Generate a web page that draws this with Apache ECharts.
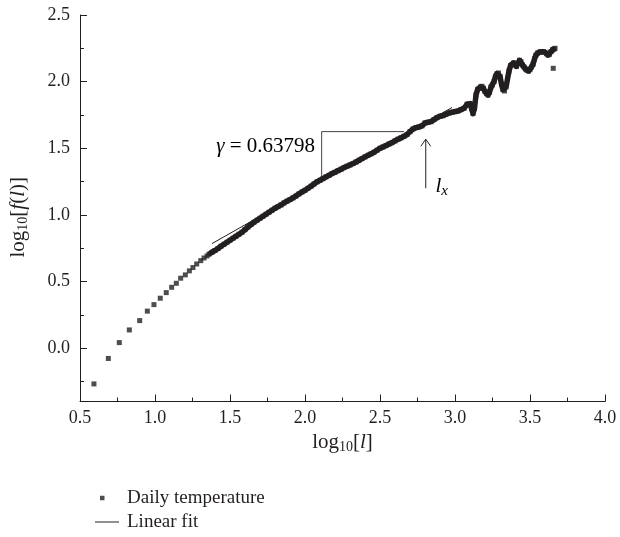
<!DOCTYPE html>
<html>
<head>
<meta charset="utf-8">
<script src="https://cdn.jsdelivr.net/npm/echarts@6/dist/echarts.min.js"></script>
<style>
  html, body { margin: 0; padding: 0; background: #fff; }
</style>
</head>
<body>
<div id="chart" style="width: 620px; height: 537px;"></div>
<script>
// x = log10[l], y = log10[f(l)]
const tempX = [
  0.593, 0.689, 0.762, 0.829, 0.898, 0.949, 0.993, 1.035, 1.075, 1.111,
  1.142, 1.171, 1.202, 1.229, 1.253, 1.278, 1.305, 1.327, 1.347,
  1.36, 1.38, 1.40, 1.42, 1.44, 1.46, 1.48, 1.50, 1.52, 1.54,
  1.56, 1.58, 1.60, 1.62, 1.64, 1.66, 1.68, 1.70, 1.72, 1.74,
  1.76, 1.78, 1.80, 1.82, 1.84, 1.86, 1.88, 1.90, 1.92, 1.94,
  1.96, 1.98, 2.00, 2.02, 2.04, 2.06, 2.08, 2.10, 2.12, 2.14,
  2.16, 2.18, 2.20, 2.22, 2.24, 2.26, 2.28, 2.30, 2.32, 2.34,
  2.36, 2.38, 2.40, 2.42, 2.44, 2.46, 2.48, 2.50, 2.52, 2.54,
  2.56, 2.58, 2.60, 2.62, 2.64, 2.66, 2.68, 2.70, 2.72, 2.74,
  2.76, 2.78, 2.80, 2.82, 2.84, 2.86, 2.88, 2.90, 2.92, 2.94,
  2.96, 2.98, 3.00, 3.02, 3.04, 3.06, 3.08, 3.10, 3.11, 3.12,
  3.13, 3.14, 3.15, 3.16, 3.17, 3.18, 3.19, 3.20, 3.21, 3.22,
  3.23, 3.24, 3.25, 3.26, 3.27, 3.28, 3.29, 3.30, 3.31, 3.32,
  3.33, 3.34, 3.35, 3.36, 3.37, 3.38, 3.39, 3.40, 3.41, 3.42,
  3.43, 3.44, 3.45, 3.46, 3.47, 3.48, 3.49, 3.50, 3.51, 3.52,
  3.53, 3.54, 3.55, 3.56, 3.57, 3.58, 3.59, 3.60, 3.61, 3.62,
  3.63, 3.64, 3.65, 3.66, 3.667
];
const tempY = [
  -0.268, -0.077, 0.042, 0.137, 0.207, 0.278, 0.327, 0.375, 0.417, 0.457,
  0.487, 0.525, 0.55, 0.58, 0.605, 0.632, 0.657, 0.677, 0.692,
  0.705, 0.72, 0.733, 0.748, 0.765, 0.78, 0.795, 0.81, 0.825, 0.84,
  0.855, 0.87, 0.89, 0.91, 0.928, 0.945, 0.96, 0.975, 0.99, 1.005,
  1.02, 1.035, 1.05, 1.062, 1.075, 1.09, 1.103, 1.115, 1.128, 1.142,
  1.158, 1.172, 1.185, 1.20, 1.215, 1.232, 1.248, 1.26, 1.272, 1.285,
  1.297, 1.31, 1.32, 1.332, 1.343, 1.355, 1.365, 1.375, 1.385, 1.397,
  1.41, 1.422, 1.435, 1.447, 1.458, 1.47, 1.485, 1.50, 1.51, 1.52,
  1.532, 1.542, 1.555, 1.568, 1.578, 1.59, 1.603, 1.625, 1.645, 1.655,
  1.66, 1.668, 1.69, 1.695, 1.70, 1.715, 1.73, 1.74, 1.745, 1.755,
  1.765, 1.77, 1.775, 1.78, 1.79, 1.80, 1.83, 1.835, 1.80, 1.76,
  1.80, 1.90, 1.94, 1.95, 1.96, 1.965, 1.95, 1.925, 1.91, 1.90,
  1.92, 1.96, 1.975, 2.00, 2.04, 2.06, 2.065, 2.04, 1.98, 1.94,
  1.93, 1.96, 2.02, 2.08, 2.12, 2.13, 2.14, 2.125, 2.115, 2.14,
  2.16, 2.15, 2.125, 2.11, 2.095, 2.085, 2.08, 2.09, 2.11, 2.13,
  2.17, 2.20, 2.215, 2.22, 2.225, 2.225, 2.225, 2.22, 2.21, 2.20,
  2.205, 2.225, 2.24, 2.245, 2.25
];
const denseFrom = 19; // from here on the squares overlap into a band
const loosePoint = [3.655, 2.10];

// linear fit, slope 0.63798
const fitX = [1.38, 2.98];
const fitY = [0.785, 1.806];

// annotation guides
const gammaX = [2.66, 2.111, 2.111];
const gammaY = [1.625, 1.625, 1.287];
const arrowX = [2.805, 2.805];
const arrowY = [1.2, 1.568];
const headX = [2.772, 2.805, 2.838];
const headY = [1.515, 1.568, 1.515];

const yMajor = [0, 0.5, 1.0, 1.5, 2.0, 2.5];
const yMinor = [-0.25, 0.25, 0.75, 1.25, 1.75, 2.25];

const ink = '#231f20';
const serif = 'Liberation Serif';

function zip(xs, ys) {
  return xs.map(function (x, i) { return [x, ys[i]]; });
}

const tempData = zip(tempX, tempY).concat([loosePoint]);
const bandData = zip(tempX, tempY).slice(denseFrom);

const sub = { fontSize: 14, fontFamily: serif, color: ink, padding: [9, 0, 0, 0] };
const norm = { fontSize: 21, fontFamily: serif, color: ink };
const ital = { fontSize: 21, fontFamily: serif, color: ink, fontStyle: 'italic' };

const chart = echarts.init(document.getElementById('chart'));

const option = {
  backgroundColor: '#fff',
  animation: false,
  textStyle: { fontFamily: serif, color: ink },
  grid: { left: 80, right: 15, top: 15, bottom: 135.5 },
  legend: {
    data: [
      { name: 'Daily temperature', icon: 'path://M0 0h0.01v5h-0.01z M5 0.25h4.5v4.5h-4.5z M23.99 0h0.01v5h-0.01z' },
      { name: 'Linear fit', icon: 'path://M0 2h24v1h-24z' }
    ],
    orient: 'vertical',
    left: 90,
    top: 483,
    height: 52,
    itemWidth: 24,
    itemHeight: 5,
    itemGap: 4,
    textStyle: { fontSize: 19, lineHeight: 20, fontFamily: serif, color: ink, padding: [0, 0, 0, 3] }
  },
  xAxis: {
    type: 'value',
    min: 0.5,
    max: 4.0,
    interval: 0.5,
    name: '{a|log}{s|10}{a|[}{i|l}{a|]}',
    nameLocation: 'middle',
    nameGap: 19,
    nameTextStyle: { rich: { a: norm, s: sub, i: ital } },
    axisLine: { onZero: false, lineStyle: { color: ink, width: 1 } },
    axisTick: { inside: true, length: 7, lineStyle: { color: ink } },
    minorTick: { show: true, splitNumber: 2, length: 4, lineStyle: { color: ink } },
    axisLabel: {
      fontSize: 18, fontFamily: serif, color: ink, margin: 8,
      formatter: function (v) { return v.toFixed(1); }
    },
    splitLine: { show: false }
  },
  yAxis: [
    {
      type: 'value',
      min: -0.4,
      max: 2.5,
      name: '{a|log}{s|10}{a|[}{i|f}{a|(}{i|l}{a|)]}',
      nameLocation: 'middle',
      nameGap: 50,
      nameTextStyle: { rich: { a: norm, s: sub, i: ital }, padding: [0, 18, 0, 0] },
      axisLine: { show: true, onZero: false, lineStyle: { color: ink, width: 1 } },
      axisTick: { show: true, inside: true, length: 7, customValues: yMajor, lineStyle: { color: ink } },
      axisLabel: {
        fontSize: 18, fontFamily: serif, color: ink, margin: 10,
        customValues: yMajor,
        formatter: function (v) { return v.toFixed(1); }
      },
      splitLine: { show: false }
    },
    {
      type: 'value',
      min: -0.4,
      max: 2.5,
      position: 'left',
      axisLine: { show: false, onZero: false },
      axisTick: { show: true, inside: true, length: 4, customValues: yMinor, lineStyle: { color: ink } },
      axisLabel: { show: false, customValues: yMinor },
      splitLine: { show: false }
    }
  ],
  series: [
    {
      name: 'Daily temperature',
      type: 'scatter',
      data: tempData,
      symbol: 'rect',
      symbolSize: 5,
      itemStyle: { color: ink },
      z: 5
    },
    {
      name: 'Linear fit',
      type: 'line',
      data: zip(fitX, fitY),
      showSymbol: false,
      symbol: 'none',
      lineStyle: { color: ink, width: 1 },
      itemStyle: { color: ink },
      z: 3
    },
    {
      name: 'band',
      type: 'line',
      data: bandData,
      symbol: 'none',
      silent: true,
      lineStyle: { color: ink, width: 5.5, join: 'round' },
      z: 4
    },
    {
      name: 'gamma',
      type: 'line',
      data: zip(gammaX, gammaY),
      symbol: 'none',
      silent: true,
      lineStyle: { color: '#444', width: 1 },
      z: 2
    },
    {
      name: 'arrow',
      type: 'line',
      data: zip(arrowX, arrowY),
      symbol: 'none',
      silent: true,
      lineStyle: { color: ink, width: 1 },
      z: 2
    },
    {
      name: 'arrowHead',
      type: 'line',
      data: zip(headX, headY),
      symbol: 'none',
      silent: true,
      lineStyle: { color: ink, width: 1 },
      z: 2
    }
  ]
};

chart.setOption(option);

// text annotations placed through the axes
const gammaPos = chart.convertToPixel({ gridIndex: 0 }, [2.067, 1.512]);
const lxPos = chart.convertToPixel({ gridIndex: 0 }, [2.87, 1.217]);

chart.setOption({
  graphic: [
    {
      type: 'text',
      x: gammaPos[0],
      y: gammaPos[1],
      style: {
        text: '{i|γ}{a| = 0.63798}',
        align: 'right',
        verticalAlign: 'middle',
        rich: {
          a: { fontSize: 21, fontFamily: serif, color: ink },
          i: { fontSize: 21, fontFamily: serif, color: ink, fontStyle: 'italic' }
        }
      }
    },
    {
      type: 'text',
      x: lxPos[0],
      y: lxPos[1],
      style: {
        text: '{i|l}{s|x}',
        align: 'left',
        verticalAlign: 'middle',
        rich: {
          i: { fontSize: 21, fontFamily: serif, fontStyle: 'italic', color: ink },
          s: { fontSize: 15, fontFamily: serif, fontStyle: 'italic', color: ink, padding: [10, 0, 0, 0] }
        }
      }
    }
  ]
});

window.onresize = function () {
  chart.resize();
};
</script>
</body>
</html>
